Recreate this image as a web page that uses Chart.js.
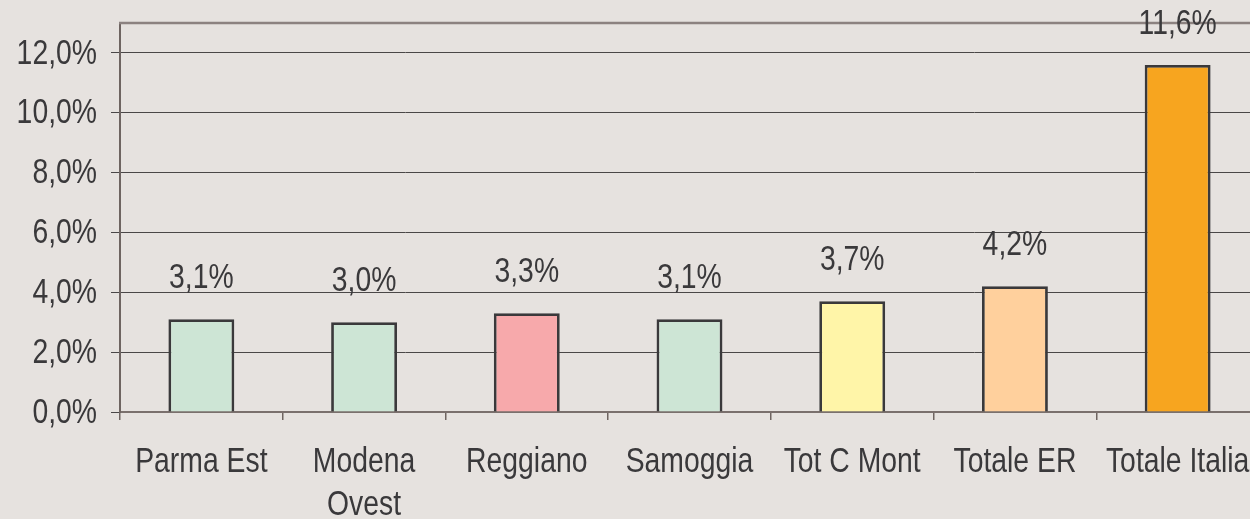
<!DOCTYPE html>
<html>
<head>
<meta charset="utf-8">
<script src="https://cdn.jsdelivr.net/npm/chart.js@4"></script>
<style>
  html, body { margin: 0; padding: 0; background: #e6e2df; overflow: hidden; }
  #wrap { width: 1259px; height: 519px; position: relative; }
</style>
</head>
<body>
<div id="wrap"><canvas id="myChart"></canvas></div>
<script>
const categories = [['Parma Est'], ['Modena', 'Ovest'], ['Reggiano'], ['Samoggia'], ['Tot C Mont'], ['Totale ER'], ['Totale Italia']];
const values = [3.1, 3.0, 3.3, 3.1, 3.7, 4.2, 11.6];
const yTicks = [0, 2, 4, 6, 8, 10, 12];
const barColors = ['#cde5d5', '#cde5d5', '#f7a9ab', '#cde5d5', '#fff5a8', '#ffd09d', '#f7a51f'];

const FONT = "'Liberation Sans', Arial, sans-serif";
const INK = '#3a393b';
const fmt = v => v.toFixed(1).replace('.', ',') + '%';

// condensed text (no narrow font installed, so squeeze horizontally)
const narrowText = (ctx, txt, x, y, align) => {
  ctx.save();
  ctx.translate(x, y);
  ctx.scale(0.81, 1);
  ctx.textAlign = align;
  ctx.fillText(txt, 0, 0);
  ctx.restore();
};

const extras = {
  id: 'extras',
  beforeDatasetsDraw(chart) {
    const { ctx, chartArea } = chart;
    ctx.save();
    ctx.strokeStyle = '#8c8280';
    ctx.lineWidth = 2.5;
    ctx.beginPath();
    ctx.moveTo(chartArea.left - 1, chartArea.top);
    ctx.lineTo(chartArea.right + 20, chartArea.top);
    ctx.stroke();
    ctx.restore();
  },
  afterDatasetsDraw(chart) {
    const { ctx, scales } = chart;
    ctx.save();
    ctx.font = '35px ' + FONT;
    ctx.fillStyle = INK;
    ctx.textBaseline = 'middle';
    // value labels
    chart.getDatasetMeta(0).data.forEach((bar, i) => {
      narrowText(ctx, fmt(values[i]), bar.x, bar.y - 41, 'center');
    });
    // y tick labels
    yTicks.forEach(v => {
      narrowText(ctx, fmt(v), scales.y.left + 97, scales.y.getPixelForValue(v) + 1, 'right');
    });
    // x tick labels
    categories.forEach((lines, i) => {
      const x = scales.x.getPixelForValue(i);
      lines.forEach((l, j) => narrowText(ctx, l, x, scales.x.top + 50 + j * 43, 'center'));
    });
    ctx.restore();
  }
};

new Chart(document.getElementById('myChart'), {
  type: 'bar',
  data: {
    labels: categories,
    datasets: [{
      data: values,
      backgroundColor: barColors,
      borderColor: '#3a393b',
      borderWidth: 2.8,
      barPercentage: 0.405,
      categoryPercentage: 1
    }]
  },
  options: {
    responsive: true,
    maintainAspectRatio: false,
    animation: false,
    layout: { padding: { top: 23, left: 0, right: 0, bottom: 0 } },
    plugins: { legend: { display: false }, tooltip: { enabled: false } },
    scales: {
      x: {
        offset: true,
        afterFit: s => { s.height = 107; },
        grid: { offset: true, drawOnChartArea: false, drawTicks: true, tickLength: 8, color: '#6e6461', lineWidth: 1.5 },
        border: { color: '#7a706d', width: 2 },
        ticks: { display: false, autoSkip: false }
      },
      y: {
        min: 0, max: 13,
        afterFit: s => { s.width = 120; },
        afterBuildTicks: s => { s.ticks = yTicks.map(v => ({ value: v })); },
        grid: { color: '#4a4747', lineWidth: 1, tickLength: 9 },
        border: { color: '#6e6461', width: 2 },
        ticks: { display: false }
      }
    }
  },
  plugins: [extras]
});
</script>
</body>
</html>
